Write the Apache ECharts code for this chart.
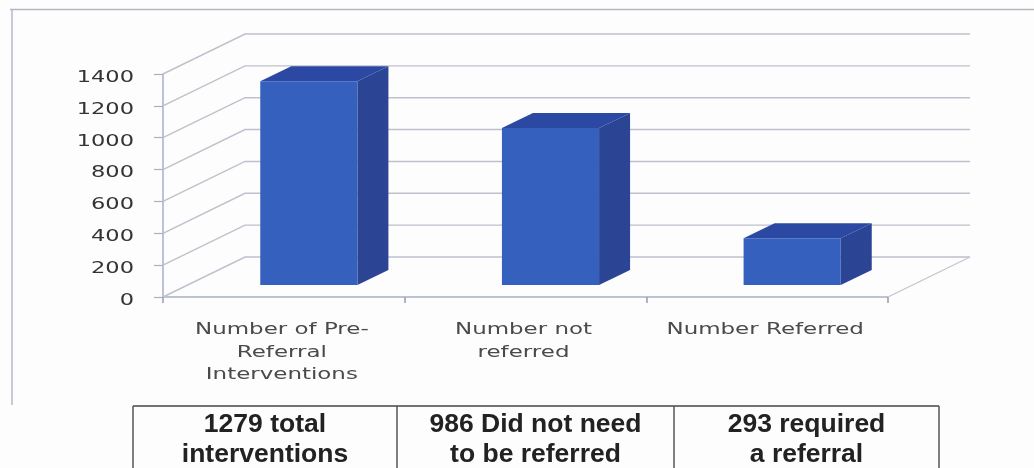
<!DOCTYPE html>
<html>
<head>
<meta charset="utf-8">
<style>html,body{margin:0;padding:0;background:#fdfdfd}#c{width:1034px;height:468px}</style>
<script src="https://cdn.jsdelivr.net/npm/echarts@6/dist/echarts.min.js"></script>
</head>
<body>
<div id="c"></div>
<script>
const categories = ["Number of Pre-\nReferral\nInterventions", "Number not\nreferred", "Number Referred"];
const values = [1279, 986, 293];
const yTicks = [0, 200, 400, 600, 800, 1000, 1200, 1400];
const tableCells = ["1279 total\ninterventions", "986 Did not need\nto be referred", "293 required\na referral"];

const WALL_DX = 82, WALL_DY = -40;
const BAR_DX = 25, BAR_DY = -12;
const SIDE_DX = 31, SIDE_DY = -15;
const GRID_COLOR = '#bfc0cd', AXIS_COLOR = '#a8aec8';

function wallItem(params, api) {
  const cs = params.coordSys;
  const v = api.value(1);
  const y = api.coord([0, v])[1];
  const x0 = cs.x, x1 = cs.x + cs.width;
  const children = [{
    type: 'polyline',
    shape: { points: [[x0, y], [x0 + WALL_DX, y + WALL_DY], [x1 + WALL_DX, y + WALL_DY]] },
    style: { stroke: GRID_COLOR, lineWidth: 1.4, fill: 'none' }
  }];
  if (v === 0) {
    children.push({
      type: 'line',
      shape: { x1: x1, y1: y, x2: x1 + WALL_DX, y2: y + WALL_DY },
      style: { stroke: '#c4c4cc', lineWidth: 1.2 }
    });
  }
  return { type: 'group', children };
}

function barItem(params, api) {
  const i = api.value(0);
  const top = api.coord([i, api.value(1)]);
  const base = api.coord([i, 0]);
  const w = api.size([1, 0])[0] * 0.402;
  const l = top[0] - w / 2 + BAR_DX, r = l + w;
  const t = top[1] + BAR_DY, b = base[1] + BAR_DY;
  return {
    type: 'group',
    children: [
      { type: 'polygon', shape: { points: [[r, t], [r + SIDE_DX, t + SIDE_DY], [r + SIDE_DX, b + SIDE_DY], [r, b]] }, style: { fill: '#2b4594' } },
      { type: 'polygon', shape: { points: [[l, t], [l + SIDE_DX, t + SIDE_DY], [r + SIDE_DX, t + SIDE_DY], [r, t]] }, style: { fill: '#2b49a3' } },
      { type: 'rect', shape: { x: l, y: t, width: w, height: b - t }, style: { fill: '#3560be' } }
    ]
  };
}

function yLabelItem(params, api) {
  const v = api.value(1);
  const p = api.coord([0, v]);
  return {
    type: 'text', x: params.coordSys.x - 29, y: p[1] + 4, scaleX: 1.5, scaleY: 1,
    style: { text: String(v), align: 'right', verticalAlign: 'middle', font: '15px "DejaVu Sans"', fill: '#333' }
  };
}

function xLabelItem(params, api) {
  const i = api.value(0);
  const p = api.coord([i, 0]);
  return {
    type: 'text', x: p[0] - 2, y: p[1] + 22, scaleX: 1.53, scaleY: 1,
    style: { text: categories[i], align: 'center', verticalAlign: 'top', font: '15px "DejaVu Sans"', lineHeight: 22.5, fill: '#4a4a4a' }
  };
}

const tableX = [133, 397, 674, 939];
const tableTop = 406;
const graphics = [
  { type: 'line', shape: { x1: 10, y1: 9.5, x2: 1034, y2: 9.5 }, style: { stroke: '#b8b8c2', lineWidth: 1.5 } },
  { type: 'line', shape: { x1: 12, y1: 9, x2: 12, y2: 405 }, style: { stroke: '#b4b6cc', lineWidth: 1.5 } },
  { type: 'line', shape: { x1: tableX[0], y1: tableTop, x2: tableX[3], y2: tableTop }, style: { stroke: '#444', lineWidth: 1.5 } }
];
tableX.forEach(function (x) {
  graphics.push({ type: 'line', shape: { x1: x, y1: tableTop, x2: x, y2: 468 }, style: { stroke: '#555', lineWidth: 1.5 } });
});
tableCells.forEach(function (t, i) {
  graphics.push({
    type: 'text', x: (tableX[i] + tableX[i + 1]) / 2, y: 409,
    style: { text: t, align: 'center', verticalAlign: 'top', font: 'bold 26.5px "Liberation Sans"', lineHeight: 30.5, fill: '#222' }
  });
});

const chart = echarts.init(document.getElementById('c'));
chart.setOption({
  animation: false,
  backgroundColor: '#fdfdfd',
  grid: { left: 163, right: 146, top: 74, bottom: 171 },
  xAxis: {
    type: 'category', data: categories,
    axisLine: { lineStyle: { color: AXIS_COLOR, width: 1.5 } },
    axisTick: { show: true, length: 6, lineStyle: { color: '#9a9aa8', width: 1.5 } },
    axisLabel: { show: false }, splitLine: { show: false }
  },
  yAxis: {
    type: 'value', min: 0, max: 1400, interval: 200,
    axisLine: { show: true, lineStyle: { color: AXIS_COLOR, width: 1.5 } },
    axisTick: { show: true, length: 9, lineStyle: { color: AXIS_COLOR, width: 1.2 } },
    axisLabel: { show: false }, splitLine: { show: false }
  },
  graphic: graphics,
  series: [
    { type: 'custom', z: 1, renderItem: wallItem, data: yTicks.map(v => [0, v]), silent: true },
    { type: 'custom', z: 3, renderItem: barItem, data: values.map((v, i) => [i, v]) },
    { type: 'custom', z: 4, renderItem: yLabelItem, data: yTicks.map(v => [0, v]), silent: true },
    { type: 'custom', z: 4, renderItem: xLabelItem, data: categories.map((c, i) => [i, 0]), silent: true }
  ]
});
</script>
</body>
</html>
